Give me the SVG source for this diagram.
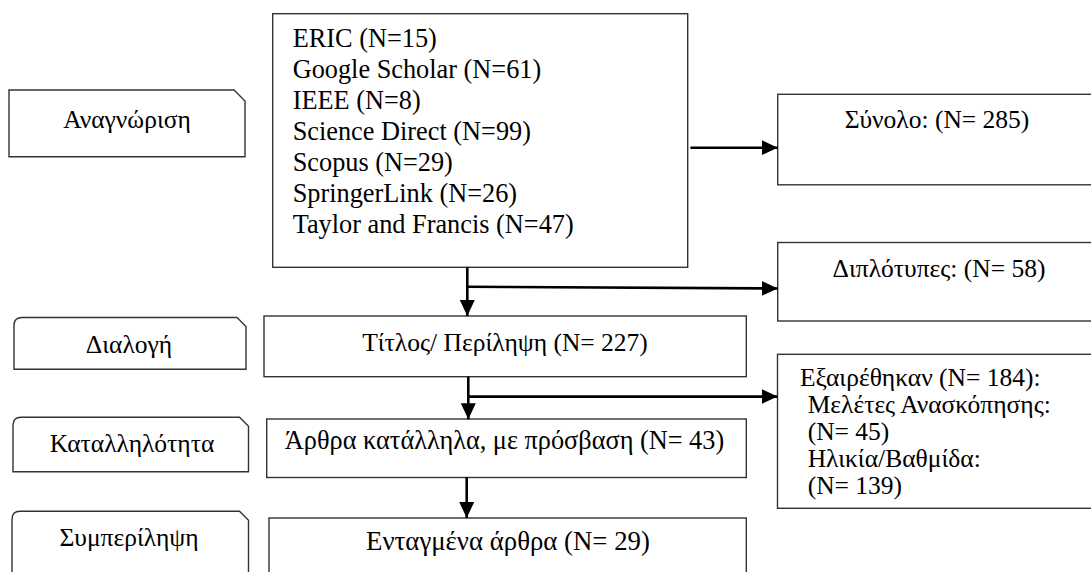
<svg xmlns="http://www.w3.org/2000/svg" width="1091" height="572" viewBox="0 0 1091 572">
<style>
.box{fill:#fff;stroke:#333;stroke-width:1.4}
.t{font-family:"Liberation Serif","DejaVu Serif",serif;font-size:25.5px;fill:#000}
.big{font-size:26.3px}
.m{text-anchor:middle}
.c{fill:none;stroke:#000;stroke-width:2.6}
</style>
<defs>
<marker id="ah" markerUnits="userSpaceOnUse" markerWidth="17" markerHeight="16" refX="16" refY="7.5" orient="auto">
<path d="M0,0 L16,7.5 L0,15 Z" fill="#000"/>
</marker>
</defs>
<rect width="1091" height="572" fill="#fff"/>

<g id="stage-identification">
<path class="box" d="M9,90 H234 L245,101 V156.7 H9 Z"/>
<text class="t m" x="127" y="128.3">Αναγνώριση</text>
</g>
<g id="stage-screening">
<path class="box" d="M14,369.3 V325.5 Q14,317.5 22,317.5 H237 L246,326.5 V369.3 Z"/>
<text class="t m" x="129" y="352.5">Διαλογή</text>
</g>
<g id="stage-eligibility">
<path class="box" d="M13,471.7 V425.3 Q13,417.3 21,417.3 H239.5 L248.5,426.3 V471.7 Z"/>
<text class="t m" x="132" y="451.5">Καταλληλότητα</text>
</g>
<g id="stage-inclusion">
<path class="box" d="M12,590 V519.3 Q12,511.3 20,511.3 H239.5 L248.5,520.3 V590 Z"/>
<text class="t m" x="129" y="546">Συμπερίληψη</text>
</g>

<g id="sources">
<rect class="box" x="272.7" y="13.7" width="415" height="253.6"/>
<text class="t big" x="292.7" y="46.7">ERIC (N=15)</text>
<text class="t big" x="292.7" y="77.8">Google Scholar (N=61)</text>
<text class="t big" x="292.7" y="108.9">IEEE (N=8)</text>
<text class="t big" x="292.7" y="140">Science Direct (N=99)</text>
<text class="t big" x="292.7" y="171.1">Scopus (N=29)</text>
<text class="t big" x="292.7" y="202.2">SpringerLink (N=26)</text>
<text class="t big" x="292.7" y="233.3">Taylor and Francis (N=47)</text>
</g>
<g id="title-abstract">
<rect class="box" x="264" y="316" width="482.3" height="60.7"/>
<text class="t m" x="505" y="350.5">Τίτλος/ Περίληψη (N= 227)</text>
</g>
<g id="eligible">
<rect class="box" x="266.7" y="419" width="479.6" height="58.5"/>
<text class="t big m" x="504.5" y="449">Άρθρα κατάλληλα, με πρόσβαση (N= 43)</text>
</g>
<g id="included">
<rect class="box" x="269" y="518" width="477.3" height="80"/>
<text class="t m" x="508" y="550" style="font-size:26.8px">Ενταγμένα άρθρα (N= 29)</text>
</g>
<g id="total">
<rect class="box" x="777.7" y="94.3" width="320" height="90.5"/>
<text class="t m" x="937" y="128.3">Σύνολο: (N= 285)</text>
</g>
<g id="duplicates">
<rect class="box" x="777.7" y="242.5" width="320" height="78.5"/>
<text class="t m" x="939" y="276.5">Διπλότυπες: (N= 58)</text>
</g>
<g id="excluded">
<rect class="box" x="777.5" y="354.3" width="320" height="154"/>
<text class="t" x="800" y="386">Εξαιρέθηκαν (N= 184):</text>
<text class="t" x="807.7" y="413">Μελέτες Ανασκόπησης:</text>
<text class="t" x="807.7" y="440">(N= 45)</text>
<text class="t" x="807.7" y="467">Ηλικία/Βαθμίδα:</text>
<text class="t" x="807.7" y="494">(N= 139)</text>
</g>

<g id="connectors">
<path class="c" d="M690.4,147.7 H777.7" marker-end="url(#ah)"/>
<path class="c" d="M467.3,267.3 V316" marker-end="url(#ah)"/>
<path class="c" d="M466,286.7 L777.7,288.5" marker-end="url(#ah)"/>
<path class="c" d="M468.3,376.7 V419.3" marker-end="url(#ah)"/>
<path class="c" d="M467,396.6 H777.5" marker-end="url(#ah)"/>
<path class="c" d="M466.7,477.3 V518" marker-end="url(#ah)"/>
</g>
</svg>
